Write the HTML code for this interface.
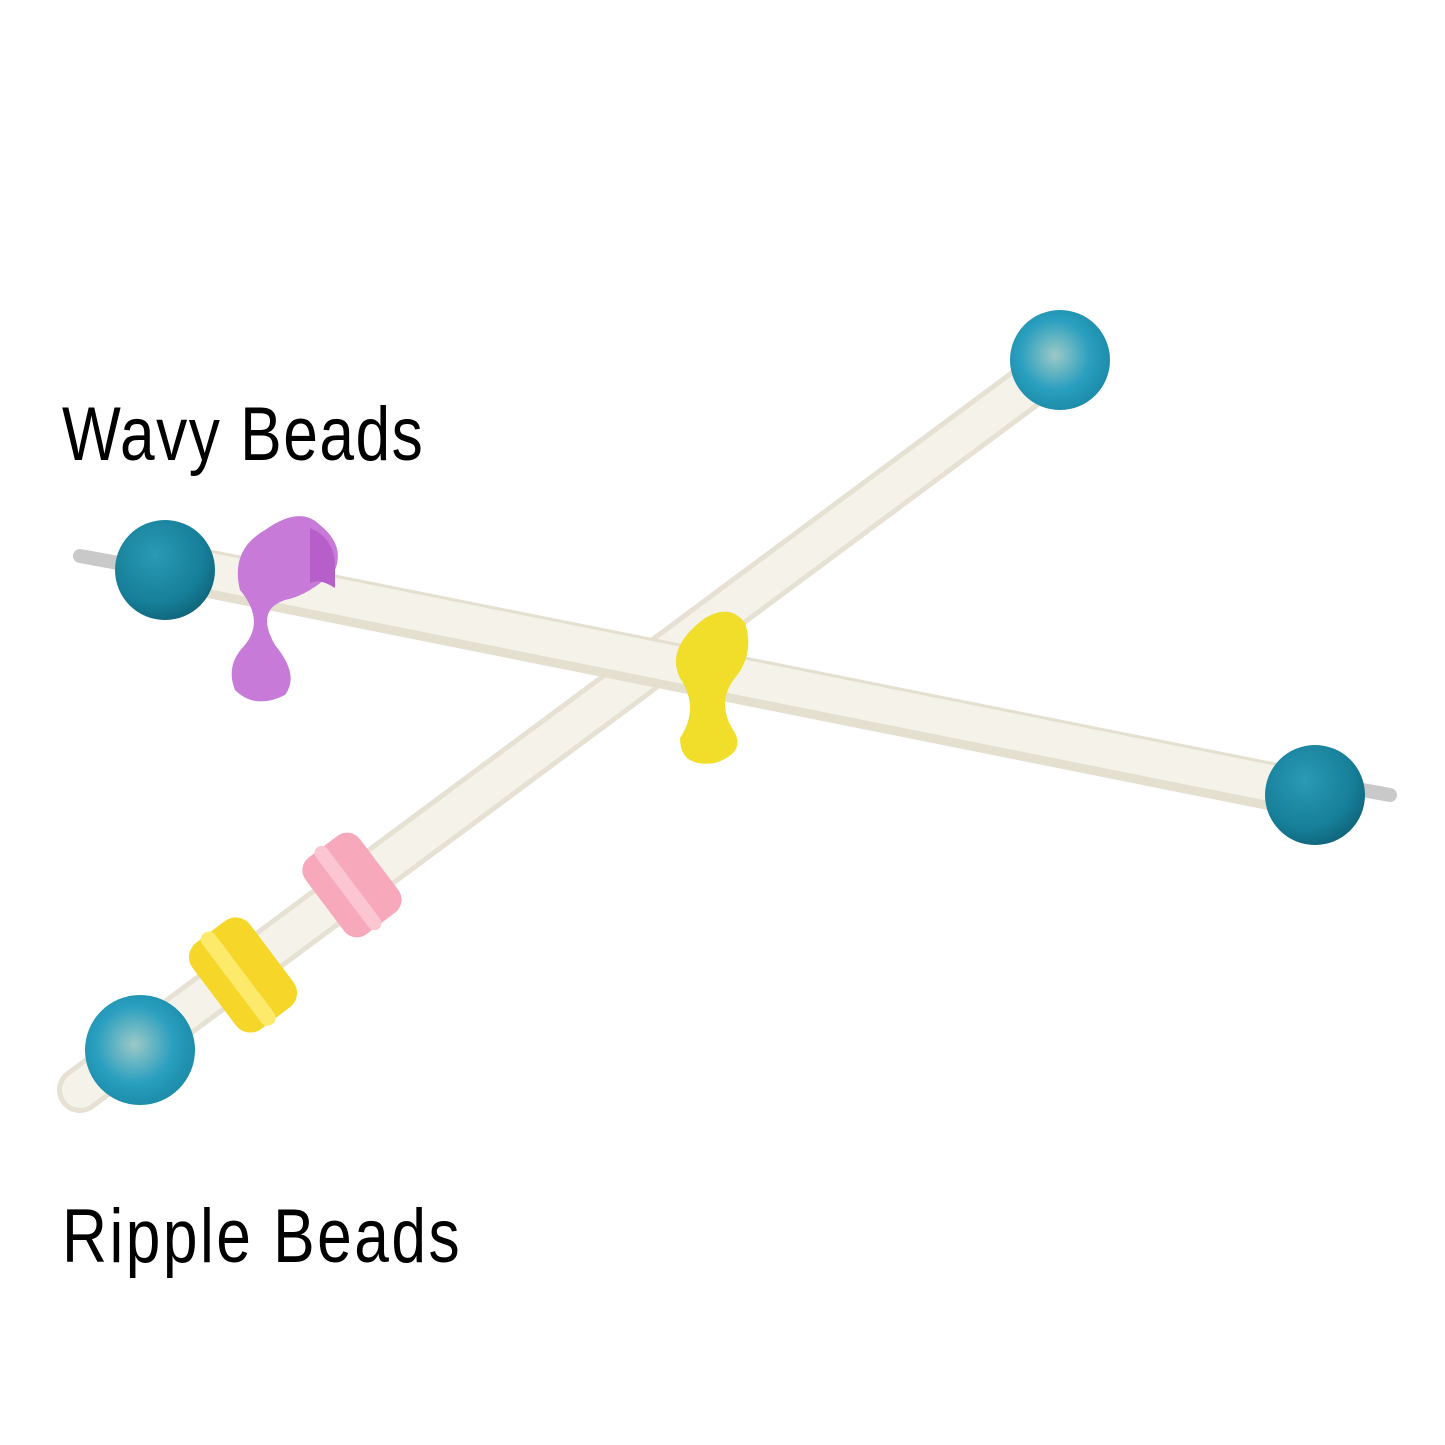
<!DOCTYPE html>
<html><head><style>
html,body{margin:0;padding:0;background:#fff;}
svg{display:block}
</style></head><body>
<svg width="1445" height="1445" viewBox="0 0 1445 1445" xmlns="http://www.w3.org/2000/svg">
<defs>
<radialGradient id="ball" cx="0.4" cy="0.35" r="0.7">
<stop offset="0" stop-color="#2a9ab5"/><stop offset="0.7" stop-color="#167e98"/><stop offset="1" stop-color="#0f6378"/>
</radialGradient>
<radialGradient id="ball2" cx="0.45" cy="0.45" r="0.7">
<stop offset="0" stop-color="#9cc9c6"/><stop offset="0.5" stop-color="#2a9fbf"/><stop offset="1" stop-color="#13809c"/>
</radialGradient>
</defs>
<rect width="1445" height="1445" fill="#fff"/>
<line x1="80" y1="1090" x2="1050" y2="370" stroke="#e6e1d3" stroke-width="46" stroke-linecap="round"/>
<line x1="80" y1="1090" x2="1050" y2="370" stroke="#f5f2ea" stroke-width="36" stroke-linecap="round"/>
<circle cx="1060" cy="360" r="50" fill="url(#ball2)"/>
<g transform="translate(352,885) rotate(-37)">
<rect x="-34" y="-48" width="68" height="96" rx="16" fill="#f7a9bb"/>
<rect x="-12" y="-51" width="14" height="102" rx="7" fill="#fbc6d2"/>
</g>
<g transform="translate(243,975) rotate(-37)">
<rect x="-36" y="-54" width="72" height="108" rx="18" fill="#f6d628"/>
<rect x="-14" y="-57" width="16" height="114" rx="8" fill="#fde96a"/>
</g>
<circle cx="140" cy="1050" r="55" fill="url(#ball2)"/>
<line x1="80" y1="556" x2="1390" y2="795" stroke="#c9c9c9" stroke-width="14" stroke-linecap="round"/>
<line x1="190" y1="570" x2="1290" y2="790" stroke="#e4dfcf" stroke-width="48" stroke-linecap="round"/>
<line x1="190" y1="567" x2="1290" y2="787" stroke="#f5f2ea" stroke-width="36" stroke-linecap="round"/>
<circle cx="165" cy="570" r="50" fill="url(#ball)"/>
<circle cx="1315" cy="795" r="50" fill="url(#ball)"/>
<path d="M265 530 q35 -25 55 -5 q25 20 15 45 q-25 25 -50 30 q-30 10 -10 45 q25 30 10 50 q-30 15 -50 -5 q-10 -25 10 -45 q20 -25 -5 -55 q-10 -40 25 -60z" fill="#c77ad8"/>
<path d="M310 528 q25 10 25 40 l0 20 q-15 -10 -25 -5z" fill="#b65fc8"/>
<path d="M705 618 q25 -15 40 5 q10 30 -10 55 q-20 25 0 55 q10 20 -20 30 q-35 5 -35 -25 q20 -30 0 -60 q-15 -30 25 -60z" fill="#f1de2a"/>
<text x="62" y="460" font-family="Liberation Sans, sans-serif" font-size="76" fill="#000" transform="translate(62 0) scale(0.82 1) translate(-62 0)" textLength="440">Wavy Beads</text>
<text x="62" y="1262" font-family="Liberation Sans, sans-serif" font-size="76" fill="#000" transform="translate(62 0) scale(0.82 1) translate(-62 0)" textLength="485">Ripple Beads</text>
</svg>
</body></html>
